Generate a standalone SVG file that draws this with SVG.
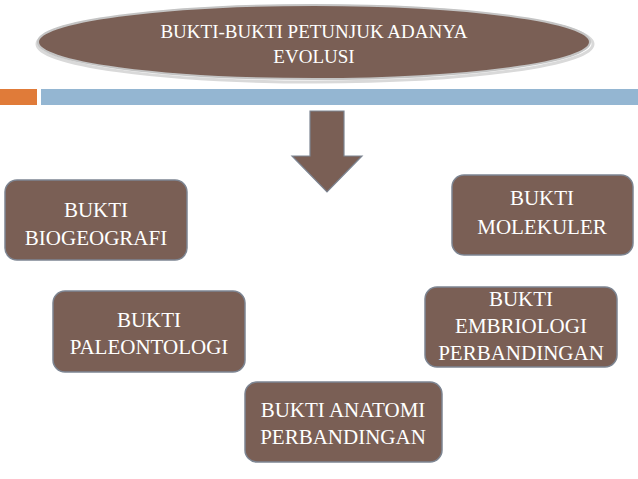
<svg xmlns="http://www.w3.org/2000/svg" width="638" height="479" viewBox="0 0 638 479">
<style>
.box{fill:#7a5f55;stroke:#7d8592;stroke-width:1.5}
.t{font-family:"Liberation Serif","Times New Roman",serif;font-size:21px;fill:#ffffff;text-anchor:middle}
.tt{font-family:"Liberation Serif","Times New Roman",serif;font-size:19px;fill:#ffffff;text-anchor:middle}
</style>
<rect width="638" height="479" fill="#ffffff"/>
<g id="title">
<ellipse cx="315" cy="44" rx="278" ry="38" fill="none" stroke="#d9d9d9" stroke-width="3"/>
<ellipse cx="314" cy="42" rx="276" ry="37" fill="#7a5f55" stroke="#c4c4c4" stroke-width="2"/>
<text class="tt" x="314" y="38">BUKTI-BUKTI PETUNJUK ADANYA</text>
<text class="tt" x="314" y="63">EVOLUSI</text>
</g>
<g id="bars">
<rect x="0" y="89" width="37" height="16" fill="#e07b39"/>
<rect x="41" y="89" width="597" height="16" fill="#94b6d2"/>
</g>
<g id="connectors">
<polygon points="310,111 344,111 344,156 362,156 327,192 292,156 310,156" fill="#7a5f55" stroke="#7d8592" stroke-width="1.2"/>
</g>
<g id="biogeografi">
<rect class="box" x="5" y="180" width="182" height="80" rx="12"/>
<text class="t" x="96" y="217">BUKTI</text>
<text class="t" x="96" y="245">BIOGEOGRAFI</text>
</g>
<g id="molekuler">
<rect class="box" x="452" y="175" width="181" height="80" rx="12"/>
<text class="t" x="542" y="205">BUKTI</text>
<text class="t" x="542" y="234">MOLEKULER</text>
</g>
<g id="embriologi">
<rect class="box" x="425" y="287" width="192" height="80" rx="12"/>
<text class="t" x="521" y="306">BUKTI</text>
<text class="t" x="521" y="333">EMBRIOLOGI</text>
<text class="t" x="521" y="360">PERBANDINGAN</text>
</g>
<g id="paleontologi">
<rect class="box" x="53" y="291" width="192" height="81" rx="12"/>
<text class="t" x="149" y="327">BUKTI</text>
<text class="t" x="149" y="354">PALEONTOLOGI</text>
</g>
<g id="anatomi">
<rect class="box" x="245" y="382" width="197" height="80" rx="12"/>
<text class="t" x="343" y="417">BUKTI ANATOMI</text>
<text class="t" x="343" y="444">PERBANDINGAN</text>
</g>
</svg>
